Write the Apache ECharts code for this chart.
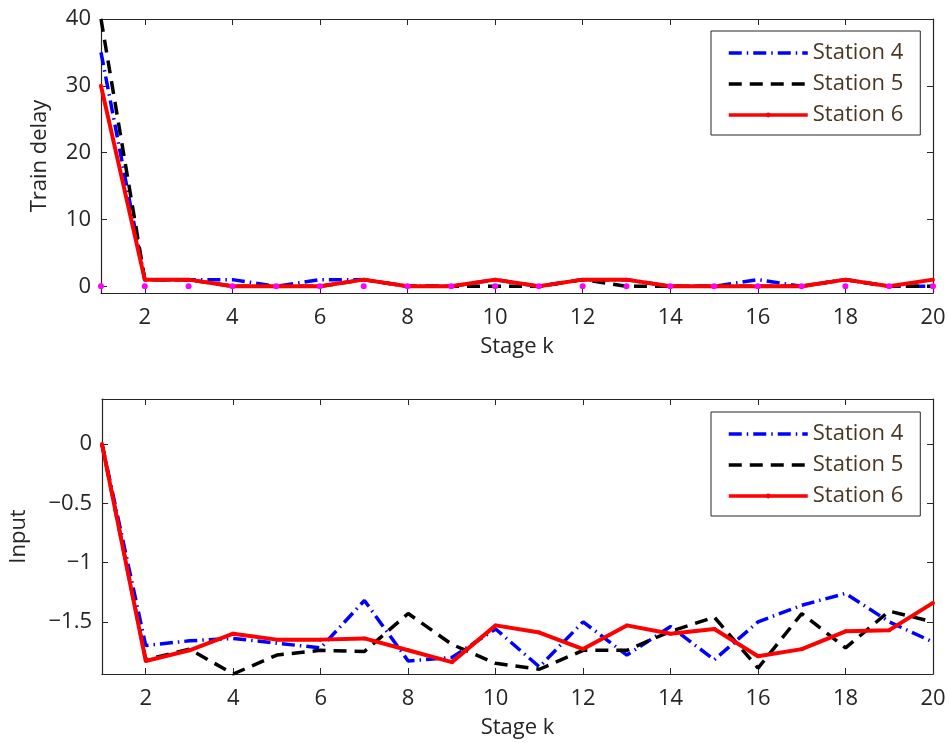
<!DOCTYPE html>
<html>
<head>
<meta charset="utf-8">
<title>Train delay and input</title>
<script src="https://cdn.jsdelivr.net/npm/echarts@6/dist/echarts.min.js"></script>
<style>
  html, body { margin: 0; padding: 0; background: #fff; }
  #chart { width: 949px; height: 743px; }
</style>
</head>
<body>
<div id="chart"></div>
<script>
// stages k = 1..20
const stages = [1, 2, 3, 4, 5, 6, 7, 8, 9, 10, 11, 12, 13, 14, 15, 16, 17, 18, 19, 20]
const xTicks = [2, 4, 6, 8, 10, 12, 14, 16, 18, 20]

// train delay (upper plot)
const delay4 = [35, 1, 1, 1, 0, 1, 1, 0, 0, 1, 0, 1, 1, 0, 0, 1, 0, 1, 0, 0]
const delay5 = [40, 1, 1, 0, 0, 0, 1, 0, 0, 0, 0, 1, 0, 0, 0, 0, 0, 1, 0, 0]
const delay6 = [30, 1, 1, 0, 0, 0, 1, 0, 0, 1, 0, 1, 1, 0, 0, 0, 0, 1, 0, 1]
const delayRef = [0, 0, 0, 0, 0, 0, 0, 0, 0, 0, 0, 0, 0, 0, 0, 0, 0, 0, 0, 0]
const delayTicks = [0, 10, 20, 30, 40]

// input (lower plot)
const input4 = [0, -1.70, -1.66, -1.64, -1.68, -1.72, -1.32, -1.83, -1.80, -1.56, -1.88, -1.50, -1.78, -1.54, -1.82, -1.50, -1.36, -1.26, -1.50, -1.67]
const input5 = [0, -1.82, -1.73, -1.94, -1.78, -1.74, -1.75, -1.43, -1.69, -1.85, -1.90, -1.74, -1.74, -1.58, -1.46, -1.89, -1.43, -1.72, -1.41, -1.50]
const input6 = [0, -1.83, -1.74, -1.60, -1.65, -1.65, -1.64, -1.74, -1.84, -1.53, -1.59, -1.73, -1.53, -1.60, -1.56, -1.79, -1.73, -1.58, -1.57, -1.34]
const inputTicks = [0, -0.5, -1, -1.5]

const names = ['Station 4', 'Station 5', 'Station 6']

const axisColor = '#262626'
const font = 'Open Sans'
const fontSize = 22
const pairs = (vals) => stages.map((k, i) => [k, vals[i]])
const minus = (v) => String(v).replace('-', '\u2212')

// one grid = bottom/left axes with labels + top/right axes for the box ticks
const makeX = (gi, withLabels) => ({
  type: 'value',
  gridIndex: gi,
  min: 1,
  max: 20,
  position: withLabels ? 'bottom' : 'top',
  name: withLabels ? 'Stage k' : '',
  nameLocation: 'middle',
  nameGap: 43,
  nameTextStyle: { color: axisColor, fontSize: fontSize, fontFamily: font },
  splitLine: { show: false },
  axisLine: { show: true, onZero: false, lineStyle: { color: axisColor, width: 1.2 } },
  axisTick: { show: true, inside: true, length: 6, customValues: xTicks, lineStyle: { color: axisColor } },
  axisLabel: { show: withLabels, customValues: xTicks, margin: 14, color: axisColor, fontSize: fontSize, fontFamily: font }
})

const makeY = (gi, withLabels, min, max, ticks, name, gap) => ({
  type: 'value',
  gridIndex: gi,
  min: min,
  max: max,
  position: withLabels ? 'left' : 'right',
  name: withLabels ? name : '',
  nameLocation: 'middle',
  nameGap: gap,
  nameTextStyle: { color: axisColor, fontSize: fontSize, fontFamily: font },
  splitLine: { show: false },
  axisLine: { show: true, onZero: false, lineStyle: { color: axisColor, width: 1.2 } },
  axisTick: { show: true, inside: true, length: 6, customValues: ticks, lineStyle: { color: axisColor } },
  axisLabel: { show: withLabels, customValues: ticks, margin: 10, color: axisColor, fontSize: fontSize, fontFamily: font, formatter: minus }
})

const styles = [
  { color: '#0000ff', width: 3.5, type: [13, 5, 1.5, 5] },
  { color: '#000000', width: 3.5, type: [13, 8] },
  { color: '#ff0000', width: 4, type: 'solid' }
]

const stationSeries = (vals, idx, xi, yi) => ({
  name: names[idx],
  type: 'line',
  xAxisIndex: xi,
  yAxisIndex: yi,
  data: pairs(vals),
  symbol: idx === 2 ? 'circle' : 'none',
  symbolSize: 4,
  showSymbol: idx === 2,
  itemStyle: { color: styles[idx].color },
  lineStyle: styles[idx],
  z: 2 + idx
})

const legendBox = (top) => ({
  left: 711,
  top: top,
  orient: 'vertical',
  data: names.map((n, i) => ({ name: n, itemStyle: { opacity: i === 2 ? 1 : 0 } })),
  backgroundColor: '#fff',
  borderColor: axisColor,
  borderWidth: 1,
  padding: [11, 17, 9, 16],
  itemWidth: 79,
  itemHeight: 6,
  itemGap: 9,
  lineStyle: { width: 3.5 },
  textStyle: { color: '#4b3621', fontSize: fontSize, fontFamily: font },
  selectedMode: false
})

const chart = echarts.init(document.getElementById('chart'))
chart.setOption({
  backgroundColor: '#fff',
  animation: false,
  grid: [
    { left: 101, top: 19, width: 832, height: 274 },
    { left: 101, top: 399, width: 832, height: 275 }
  ],
  legend: [legendBox(31), legendBox(412)],
  xAxis: [makeX(0, true), makeX(0, false), makeX(1, true), makeX(1, false)],
  yAxis: [
    makeY(0, true, -1, 40, delayTicks, 'Train delay', 50),
    makeY(0, false, -1, 40, delayTicks, '', 0),
    makeY(1, true, -1.94, 0.38, inputTicks, 'Input', 72),
    makeY(1, false, -1.94, 0.38, inputTicks, '', 0)
  ],
  series: [
    stationSeries(delay4, 0, 0, 0),
    stationSeries(delay5, 1, 0, 0),
    stationSeries(delay6, 2, 0, 0),
    {
      name: 'reference',
      type: 'line',
      xAxisIndex: 0,
      yAxisIndex: 0,
      data: pairs(delayRef),
      symbol: 'circle',
      symbolSize: 6,
      itemStyle: { color: '#ff00ff' },
      lineStyle: { width: 0, opacity: 0 },
      z: 6
    },
    stationSeries(input4, 0, 2, 2),
    stationSeries(input5, 1, 2, 2),
    stationSeries(input6, 2, 2, 2)
  ]
})
</script>
</body>
</html>
